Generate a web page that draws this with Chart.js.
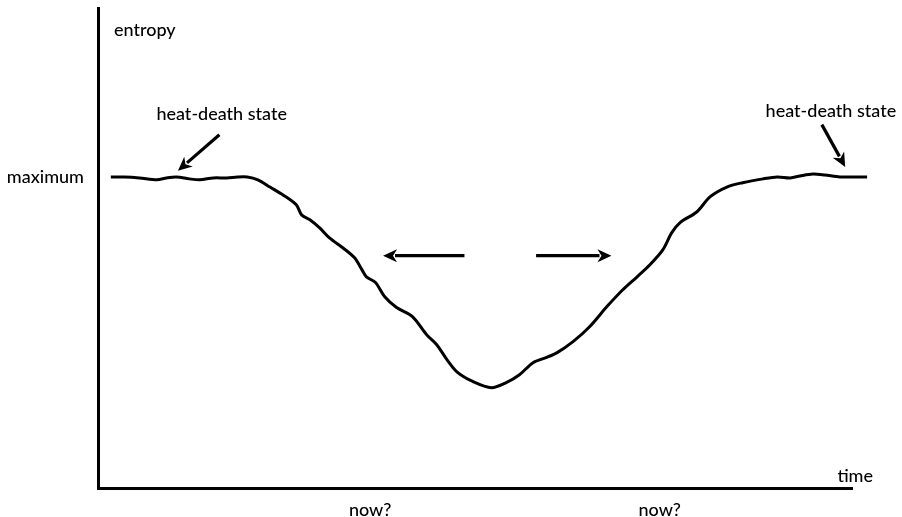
<!DOCTYPE html>
<html>
<head>
<meta charset="utf-8">
<script src="https://cdn.jsdelivr.net/npm/chart.js@4.4.1/dist/chart.umd.min.js"></script>
<style>
  html, body { margin: 0; padding: 0; background: #fff; }
  #wrap { width: 902px; height: 517px; }
</style>
</head>
<body>
<div id="wrap"><canvas id="c" width="902" height="517"></canvas></div>
<script>
// Time (arbitrary units, 0–100 spans the drawn time axis)
const time = [1.7,3.5,5.5,7.8,9.1,10.4,12.1,13.5,15.3,17.1,18.5,19.8,21.2,22.8,24.5,26.3,27.0,28.1,29.4,30.7,32.5,34.0,35.0,35.6,36.8,38.0,39.6,41.7,43.6,44.9,46.3,47.6,49.7,52.2,54.2,55.9,57.7,59.5,60.9,63.0,65.2,67.5,69.6,71.5,73.2,74.9,76.1,77.2,79.4,81.2,83.4,85.5,88.2,90.1,91.8,93.1,94.8,96.4,98.4,102.0,105.4];
// Entropy (arbitrary units, 0–100 spans the drawn entropy axis)
const entropy = [64.8,64.8,64.6,64.2,64.6,64.8,64.4,64.2,64.6,64.6,64.8,64.8,64.2,62.7,61.1,59.0,56.9,55.9,54.2,52.1,50.0,48.0,45.5,44.0,42.8,39.9,37.6,35.7,31.9,29.9,26.7,24.2,22.2,20.9,22.0,23.6,26.1,27.2,28.2,30.5,33.6,37.8,41.3,44.0,46.5,49.6,53.2,55.3,57.5,60.7,62.7,63.6,64.4,64.8,64.6,65.0,65.4,65.2,64.8,64.8,64.8];

const axisLabels = { y: "entropy", yLevel: "maximum", x: "time", now: "now?" };
const heatDeathLabel = "heat-death state";
const nowTimes = [36.1, 74.5];
const maximumLevel = 65.0;

// Annotation arrows in data units: [tailTime, tailEntropy, tipTime, tipEntropy]
const arrows = [
  [16.1, 73.6, 10.6, 66.1],
  [96.0, 75.7, 99.1, 66.9],
  [48.6, 48.4, 37.8, 48.4],
  [58.1, 48.4, 68.1, 48.4]
];
// Heat-death label anchors in data units: [time, entropy]
const heatLabels = [[16.4, 77.9], [97.2, 78.5]];

const FONT = '500 18px Lato, "Noto Sans", sans-serif';

const points = time.map((t, i) => ({ x: t, y: entropy[i] }));

const annot = {
  id: 'annot',
  afterDraw(chart) {
    const ctx = chart.ctx;
    const xs = chart.scales.x, ys = chart.scales.y;
    const ca = chart.chartArea;
    ctx.save();
    ctx.fillStyle = '#000';
    ctx.strokeStyle = '#000';
    ctx.font = FONT;
    ctx.textBaseline = 'middle';

    ctx.textAlign = 'left';
    ctx.fillText(axisLabels.y, ca.left + 16, ys.getPixelForValue(95.3));
    ctx.textAlign = 'right';
    ctx.fillText(axisLabels.yLevel, ca.left - 14, ys.getPixelForValue(maximumLevel) + 1);
    ctx.textAlign = 'right';
    ctx.fillText(axisLabels.x, ca.right + 21, ca.bottom - 12);
    ctx.textAlign = 'center';
    nowTimes.forEach(t => ctx.fillText(axisLabels.now, xs.getPixelForValue(t), ca.bottom + 22));
    heatLabels.forEach(([t, e]) => ctx.fillText(heatDeathLabel, xs.getPixelForValue(t), ys.getPixelForValue(e)));

    arrows.forEach(([t0, e0, t1, e1]) => {
      const x0 = xs.getPixelForValue(t0), y0 = ys.getPixelForValue(e0);
      const x1 = xs.getPixelForValue(t1), y1 = ys.getPixelForValue(e1);
      const ang = Math.atan2(y1 - y0, x1 - x0);
      const len = 14, hw = 6.5;
      const bx = x1 - len * Math.cos(ang), by = y1 - len * Math.sin(ang);
      ctx.lineWidth = 3.2;
      ctx.beginPath();
      ctx.moveTo(x0, y0);
      ctx.lineTo(bx + 2 * Math.cos(ang), by + 2 * Math.sin(ang));
      ctx.stroke();
      ctx.beginPath();
      ctx.moveTo(x1, y1);
      ctx.lineTo(bx + hw * Math.sin(ang), by - hw * Math.cos(ang));
      ctx.lineTo(x1 - (len - 4) * Math.cos(ang), y1 - (len - 4) * Math.sin(ang));
      ctx.lineTo(bx - hw * Math.sin(ang), by + hw * Math.cos(ang));
      ctx.closePath();
      ctx.fill();
    });
    ctx.restore();
  }
};

new Chart(document.getElementById('c'), {
  type: 'line',
  data: {
    datasets: [{
      data: points,
      borderColor: '#000',
      borderWidth: 3,
      pointRadius: 0,
      tension: 0.3,
      fill: false,
      clip: false
    }]
  },
  options: {
    responsive: false,
    animation: false,
    events: [],
    layout: { padding: { left: 98, right: 50, top: 8, bottom: 29 } },
    plugins: { legend: { display: false }, tooltip: { enabled: false } },
    scales: {
      x: {
        type: 'linear', min: 0, max: 100,
        grid: { display: false, drawTicks: false },
        border: { display: true, color: '#000', width: 3 },
        ticks: { display: false },
        afterFit: s => { s.height = 0; }
      },
      y: {
        type: 'linear', min: 0, max: 100,
        grid: { display: false, drawTicks: false },
        border: { display: true, color: '#000', width: 3 },
        ticks: { display: false },
        afterFit: s => { s.width = 0; }
      }
    }
  },
  plugins: [annot]
});
</script>
</body>
</html>
